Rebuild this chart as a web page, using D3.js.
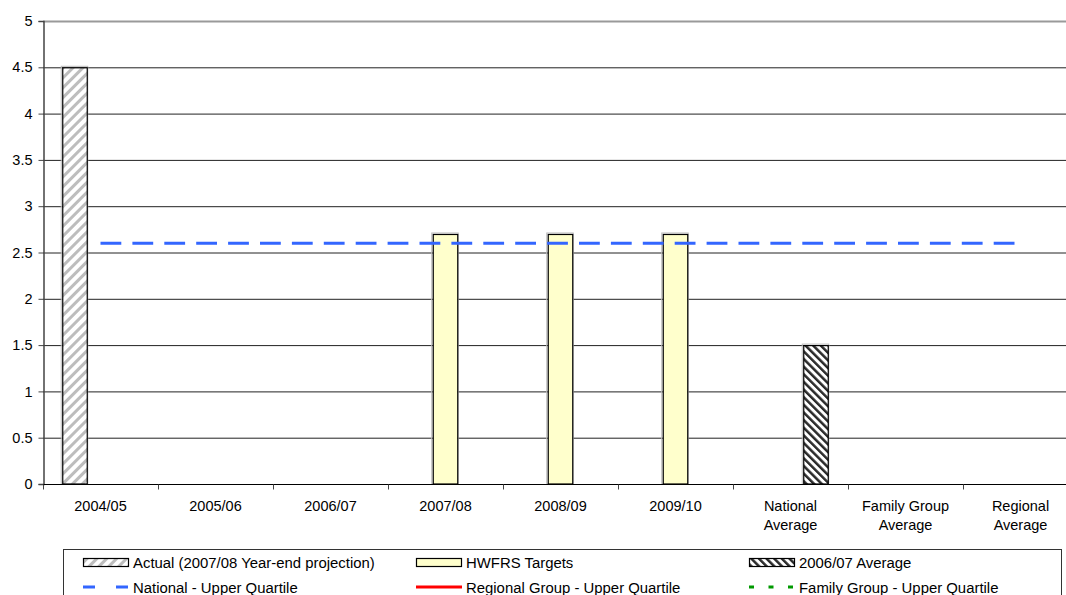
<!DOCTYPE html>
<html>
<head>
<meta charset="utf-8">
<script src="https://cdn.jsdelivr.net/npm/d3@7"></script>
<style>
  html, body { margin: 0; padding: 0; background: #fff; }
  svg { display: block; font-family: "Liberation Sans", Arial, sans-serif; }
</style>
</head>
<body>
<svg id="chart" width="1066" height="595"></svg>
<script>
// Categories along the x axis ("\n" marks a line break in the label)
const categories = ["2004/05", "2005/06", "2006/07", "2007/08", "2008/09", "2009/10",
                    "National\nAverage", "Family Group\nAverage", "Regional\nAverage"];

// Bar series
const actual     = [4.5, null, null, null, null, null, null, null, null];
const targets    = [null, null, null, 2.7, 2.7, 2.7, null, null, null];
const average0607 = [null, null, null, null, null, null, 1.5, null, null];

// Line series
const nationalUQ = [2.6, 2.6, 2.6, 2.6, 2.6, 2.6, 2.6, 2.6, 2.6];
const regionalUQ = [null, null, null, null, null, null, null, null, null];
const familyUQ   = [null, null, null, null, null, null, null, null, null];

const yTicks = [0, 0.5, 1, 1.5, 2, 2.5, 3, 3.5, 4, 4.5, 5];

const barSeries = [
  { key: "actual", name: "Actual (2007/08 Year-end projection)", values: actual, fill: "url(#hatchLight)" },
  { key: "targets", name: "HWFRS Targets", values: targets, fill: "#FFFFCC" },
  { key: "avg", name: "2006/07 Average", values: average0607, fill: "url(#hatchDark)" }
];
const lineSeries = [
  { name: "National - Upper Quartile", values: nationalUQ, color: "#3366FF", dash: "20.8,11.1", legendDash: "12,21" },
  { name: "Regional Group - Upper Quartile", values: regionalUQ, color: "#FF0000", dash: null, legendDash: null },
  { name: "Family Group - Upper Quartile", values: familyUQ, color: "#009900", dash: "5,14.5", legendDash: "5,14.5" }
];

const svg = d3.select("#chart");
const FONT = 14.5;
const LEGEND_FONT = 14.9;

const plot = { left: 43, right: 1078, top: 21, bottom: 484 };

const x0 = d3.scaleBand().domain(d3.range(categories.length))
  .range([plot.left, plot.right]).paddingInner(0).paddingOuter(0);
const x1 = d3.scaleBand().domain(barSeries.map(s => s.key))
  .range([0, x0.bandwidth()]).paddingInner(0).paddingOuter(0.755);
const y = d3.scaleLinear().domain([0, 5]).range([plot.bottom, plot.top]);

// Hatch patterns
const defs = svg.append("defs");
const light = defs.append("pattern").attr("id", "hatchLight")
  .attr("patternUnits", "userSpaceOnUse").attr("width", 7).attr("height", 7)
  .attr("patternTransform", "rotate(45)");
light.append("rect").attr("width", 7).attr("height", 7).attr("fill", "#fff");
light.append("rect").attr("width", 3).attr("height", 7).attr("fill", "#bdbdbd");

const dark = defs.append("pattern").attr("id", "hatchDark")
  .attr("patternUnits", "userSpaceOnUse").attr("width", 5.4).attr("height", 5.4)
  .attr("patternTransform", "rotate(-45)");
dark.append("rect").attr("width", 5.4).attr("height", 5.4).attr("fill", "#fff");
dark.append("rect").attr("width", 2.5).attr("height", 5.4).attr("fill", "#2a2a2a");

// Gridlines
svg.append("g").selectAll("line").data(yTicks.filter(t => t > 0)).join("line")
  .attr("x1", plot.left).attr("x2", plot.right)
  .attr("y1", d => y(d) + 0.5).attr("y2", d => y(d) + 0.5)
  .attr("stroke", d => d === 5 ? "#9a9a9a" : "#222")
  .attr("stroke-width", d => d === 5 ? 2 : 1);

// Bars
const barG = svg.append("g");
barSeries.forEach(s => {
  const data = s.values.map((v, i) => ({ i, v })).filter(d => d.v != null);
  // faint drop shadow
  barG.append("g").selectAll("rect").data(data).join("rect")
    .attr("x", d => x0(d.i) + x1(s.key) - 1)
    .attr("y", d => y(d.v) - 1)
    .attr("width", x1.bandwidth() + 1)
    .attr("height", d => y(0) - y(d.v) + 1)
    .attr("fill", "none").attr("stroke", "#bbb").attr("stroke-width", 1);
  barG.append("g").selectAll("rect").data(data).join("rect")
    .attr("x", d => x0(d.i) + x1(s.key) + 0.5)
    .attr("y", d => y(d.v) + 0.5)
    .attr("width", x1.bandwidth() - 1)
    .attr("height", d => y(0) - y(d.v) - 0.5)
    .attr("fill", s.fill).attr("stroke", "#000").attr("stroke-width", 1.2);
});

// Y axis
const yAxis = d3.axisLeft(y).tickValues(yTicks).tickSize(5).tickPadding(6)
  .tickFormat(d3.format("~g"));
const yg = svg.append("g").attr("transform", `translate(${plot.left + 0.5},0)`).call(yAxis);
yg.select(".domain").attr("stroke", "#444").attr("stroke-width", 1.5);
yg.selectAll(".tick line").attr("stroke", "#444");
yg.selectAll(".tick text").attr("font-size", FONT).attr("fill", "#000")
  .attr("font-family", "Liberation Sans, Arial, sans-serif");

// X axis
const xg = svg.append("g").attr("transform", `translate(0,${plot.bottom + 0.5})`);
xg.append("line").attr("x1", plot.left).attr("x2", plot.right)
  .attr("stroke", "#000").attr("stroke-width", 1.2);
xg.selectAll("line.tick").data(d3.range(categories.length + 1)).join("line")
  .attr("class", "tick")
  .attr("x1", i => (i < categories.length ? x0(i) : plot.right) + 0.5)
  .attr("x2", i => (i < categories.length ? x0(i) : plot.right) + 0.5)
  .attr("y1", 0).attr("y2", 5).attr("stroke", "#444");
const xl = xg.selectAll("text").data(categories).join("text")
  .attr("x", (d, i) => x0(i) + x0.bandwidth() / 2)
  .attr("y", 26.5)
  .attr("text-anchor", "middle").attr("font-size", FONT).attr("fill", "#000");
xl.each(function (d) {
  const lines = d.split("\n");
  d3.select(this).selectAll("tspan").data(lines).join("tspan")
    .attr("x", d3.select(this).attr("x"))
    .attr("dy", (l, k) => k === 0 ? 0 : 18.5)
    .text(l => l);
});

// Lines (drawn above bars)
const lineGen = d3.line().defined(d => d.v != null)
  .x(d => x0(d.i) + x0.bandwidth() / 2).y(d => y(d.v));
lineSeries.forEach(s => {
  const pts = s.values.map((v, i) => ({ i, v }));
  if (pts.every(p => p.v == null)) return;
  svg.append("path").datum(pts).attr("d", lineGen)
    .attr("fill", "none").attr("stroke", s.color).attr("stroke-width", 3)
    .attr("stroke-dasharray", s.dash);
});

// Legend
const lg = svg.append("g");
lg.append("rect").attr("x", 63.5).attr("y", 549.5).attr("width", 998).attr("height", 60)
  .attr("fill", "#fff").attr("stroke", "#333").attr("stroke-width", 1);

const colX = [83, 416, 749];
const rowY = [562.5, 587];
const items = [
  { type: "bar", s: barSeries[0] }, { type: "bar", s: barSeries[1] }, { type: "bar", s: barSeries[2] },
  { type: "line", s: lineSeries[0] }, { type: "line", s: lineSeries[1] }, { type: "line", s: lineSeries[2] }
];
items.forEach((it, k) => {
  const cx = colX[k % 3], cy = rowY[Math.floor(k / 3)];
  const g = lg.append("g");
  if (it.type === "bar") {
    g.append("rect").attr("x", cx + 0.5).attr("y", cy - 4).attr("width", 45).attr("height", 8)
      .attr("fill", it.s.fill).attr("stroke", "#000").attr("stroke-width", 1.2);
  } else {
    g.append("line").attr("x1", cx).attr("x2", cx + 46).attr("y1", cy).attr("y2", cy)
      .attr("stroke", it.s.color).attr("stroke-width", 3)
      .attr("stroke-dasharray", it.s.legendDash);
  }
  g.append("text").attr("x", cx + 50).attr("y", cy + 5.5)
    .attr("font-size", LEGEND_FONT).attr("fill", "#000").text(it.s.name);
});
</script>
</body>
</html>
